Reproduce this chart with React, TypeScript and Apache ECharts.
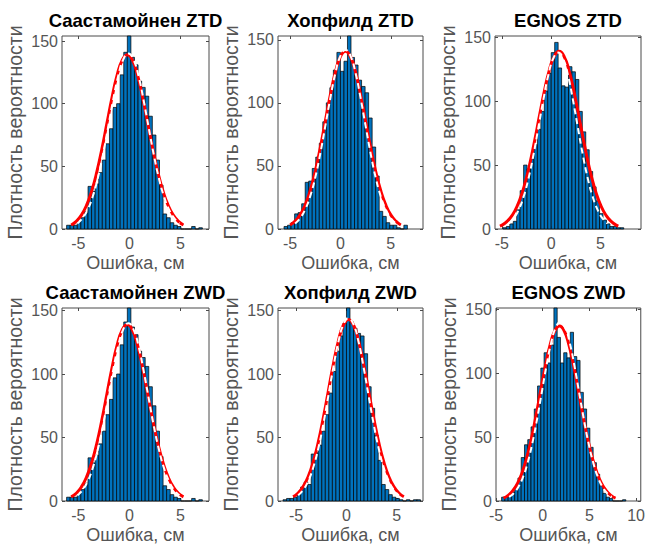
import React, { useEffect, useRef } from "react";
import * as echarts from "echarts";

// Panel titles, row by row
const panelTitles = [
  "Саастамойнен ZTD",
  "Хопфилд ZTD",
  "EGNOS ZTD",
  "Саастамойнен ZWD",
  "Хопфилд ZWD",
  "EGNOS ZWD",
];
const xAxisName = "Ошибка, см";
const yAxisName = "Плотность вероятности";

// Tick values
const xTickValues = [
  [-5, 0, 5],
  [-5, 0, 5],
  [-5, 0, 5],
  [-5, 0, 5],
  [-5, 0, 5],
  [-5, 0, 5, 10],
];
const yTickValues = [0, 50, 100, 150];

// Axis limits
const xRanges = [
  [-6.6, 7.8],
  [-6.2, 8.2],
  [-5.7, 9.1],
  [-6.6, 7.8],
  [-6.8, 7.6],
  [-5, 10.5],
];
const yMax = [154, 153, 151, 152, 152, 151];

// Histogram bins: first edge of each panel, common bin width
const binStart = [-6.15, -5.6, -4.9, -6.15, -6.3, -4.4];
const binWidth = 0.35;

// Bin counts
const countsSaastZTD = [3, 3, 3, 6, 9, 14, 34, 30, 36, 45, 55, 68, 80, 97, 100, 123, 141, 156, 137, 131, 118, 113, 106, 90, 75, 55, 35, 12, 9, 5, 3, 2, 0, 0, 0, 2, 0, 1];
const countsHopfZTD = [2, 3, 5, 12, 13, 20, 37, 38, 48, 57, 68, 85, 100, 112, 126, 140, 125, 133, 156, 136, 130, 118, 113, 108, 88, 65, 42, 14, 10, 5, 3, 3, 1, 0, 3];
const countsEgnosZTD = [1, 2, 4, 6, 15, 30, 50, 47, 55, 66, 78, 92, 108, 122, 138, 146, 126, 112, 111, 127, 123, 117, 92, 76, 62, 45, 33, 22, 12, 7, 4, 2, 2, 1, 1];
const countsSaastZWD = [3, 3, 3, 6, 9, 14, 34, 30, 36, 45, 55, 68, 80, 97, 100, 123, 141, 156, 137, 131, 118, 113, 106, 90, 75, 55, 35, 12, 9, 5, 3, 2, 0, 0, 0, 2, 0, 1];
const countsHopfZWD = [1, 2, 2, 3, 6, 11, 15, 13, 37, 38, 44, 55, 68, 85, 102, 118, 130, 140, 153, 141, 136, 132, 130, 116, 90, 73, 52, 32, 13, 9, 5, 3, 2, 1, 0, 1, 0, 1, 1];
const countsEgnosZWD = [3, 3, 4, 7, 11, 18, 34, 44, 48, 58, 72, 90, 104, 116, 108, 122, 156, 128, 108, 116, 112, 132, 113, 110, 85, 72, 57, 42, 30, 21, 12, 6, 3, 2, 0, 0, 0, 1];

// Fitted density curves (red solid)
const redSaastZTD = [[-5.7, 3.2], [-5.2, 6.1], [-4.7, 11.1], [-4.2, 18.8], [-3.7, 30.1], [-3.2, 45.1], [-2.7, 63.6], [-2.2, 84.3], [-1.7, 104.9], [-1.2, 122.7], [-0.7, 134.7], [-0.2, 139], [0.3, 134.7], [0.8, 122.7], [1.3, 104.9], [1.8, 84.3], [2.3, 63.6], [2.8, 45.1], [3.3, 30.1], [3.8, 18.8], [4.3, 11.1], [4.8, 6.1], [5.3, 3.2]];
const redHopfZTD = [[-5.0, 3.2], [-4.5, 6.2], [-4.0, 11.2], [-3.5, 19.1], [-3.0, 30.5], [-2.5, 45.8], [-2.0, 64.6], [-1.5, 85.5], [-1.0, 106.4], [-0.5, 124.4], [0.0, 136.6], [0.5, 141], [1.0, 136.6], [1.5, 124.4], [2.0, 106.4], [2.5, 85.5], [3.0, 64.6], [3.5, 45.8], [4.0, 30.5], [4.5, 19.1], [5.0, 11.2], [5.5, 6.2], [6.0, 3.2]];
const redEgnosZTD = [[-5.2, 2.3], [-4.7, 4.5], [-4.2, 8.2], [-3.7, 14.0], [-3.2, 22.7], [-2.7, 34.6], [-2.2, 50.0], [-1.7, 68.4], [-1.2, 88.3], [-0.7, 107.7], [-0.2, 124.1], [0.3, 135.1], [0.8, 139], [1.3, 135.1], [1.8, 124.1], [2.3, 107.7], [2.8, 88.3], [3.3, 68.4], [3.8, 50.0], [4.3, 34.6], [4.8, 22.7], [5.3, 14.0], [5.8, 8.2], [6.3, 4.5], [6.8, 2.3]];
const redSaastZWD = [[-5.7, 3.2], [-5.2, 6.1], [-4.7, 11.1], [-4.2, 18.8], [-3.7, 30.1], [-3.2, 45.1], [-2.7, 63.6], [-2.2, 84.3], [-1.7, 104.9], [-1.2, 122.7], [-0.7, 134.7], [-0.2, 139], [0.3, 134.7], [0.8, 122.7], [1.3, 104.9], [1.8, 84.3], [2.3, 63.6], [2.8, 45.1], [3.3, 30.1], [3.8, 18.8], [4.3, 11.1], [4.8, 6.1], [5.3, 3.2]];
const redHopfZWD = [[-5.3, 3.3], [-4.8, 6.3], [-4.3, 11.4], [-3.8, 19.3], [-3.3, 30.9], [-2.8, 46.4], [-2.3, 65.5], [-1.8, 86.7], [-1.3, 107.9], [-0.8, 126.2], [-0.3, 138.6], [0.2, 143], [0.7, 138.6], [1.2, 126.2], [1.7, 107.9], [2.2, 86.7], [2.7, 65.5], [3.2, 46.4], [3.7, 30.9], [4.2, 19.3], [4.7, 11.4], [5.2, 6.3], [5.7, 3.3]];
const redEgnosZWD = [[-4.2, 2.3], [-3.7, 4.4], [-3.2, 8.1], [-2.7, 13.8], [-2.2, 22.3], [-1.7, 34.1], [-1.2, 49.3], [-0.7, 67.4], [-0.2, 87.0], [0.3, 106.2], [0.8, 122.3], [1.3, 133.2], [1.8, 137], [2.3, 133.2], [2.8, 122.3], [3.3, 106.2], [3.8, 87.0], [4.3, 67.4], [4.8, 49.3], [5.3, 34.1], [5.8, 22.3], [6.3, 13.8], [6.8, 8.1], [7.3, 4.4], [7.8, 2.3]];

// Second density estimate (white dashed)
const whiteSaastZTD = [[-5.1, 4.4], [-4.6, 8.5], [-4.1, 15.3], [-3.6, 25.7], [-3.1, 40.3], [-2.6, 58.9], [-2.1, 80.5], [-1.6, 102.5], [-1.1, 121.9], [-0.6, 135.2], [-0.1, 140], [0.4, 135.2], [0.9, 121.9], [1.4, 102.5], [1.9, 80.5], [2.4, 58.9], [2.9, 40.3], [3.4, 25.7], [3.9, 15.3], [4.4, 8.5], [4.9, 4.4]];
const whiteHopfZTD = [[-4.5, 4.4], [-4.0, 8.6], [-3.5, 15.5], [-3.0, 26.0], [-2.5, 40.8], [-2.0, 59.8], [-1.5, 81.7], [-1.0, 103.9], [-0.5, 123.7], [0.0, 137.2], [0.5, 142], [1.0, 137.2], [1.5, 123.7], [2.0, 103.9], [2.5, 81.7], [3.0, 59.8], [3.5, 40.8], [4.0, 26.0], [4.5, 15.5], [5.0, 8.6], [5.5, 4.4]];
const whiteEgnosZTD = [[-4.3, 4.3], [-3.8, 8.3], [-3.3, 15.0], [-2.8, 25.3], [-2.3, 39.7], [-1.8, 58.1], [-1.3, 79.4], [-0.8, 101.0], [-0.3, 120.2], [0.2, 133.3], [0.7, 138], [1.2, 133.3], [1.7, 120.2], [2.2, 101.0], [2.7, 79.4], [3.2, 58.1], [3.7, 39.7], [4.2, 25.3], [4.7, 15.0], [5.2, 8.3], [5.7, 4.3]];
const whiteSaastZWD = [[-5.1, 4.4], [-4.6, 8.5], [-4.1, 15.3], [-3.6, 25.7], [-3.1, 40.3], [-2.6, 58.9], [-2.1, 80.5], [-1.6, 102.5], [-1.1, 121.9], [-0.6, 135.2], [-0.1, 140], [0.4, 135.2], [0.9, 121.9], [1.4, 102.5], [1.9, 80.5], [2.4, 58.9], [2.9, 40.3], [3.4, 25.7], [3.9, 15.3], [4.4, 8.5], [4.9, 4.4]];
const whiteHopfZWD = [[-4.8, 4.5], [-4.3, 8.7], [-3.8, 15.7], [-3.3, 26.4], [-2.8, 41.4], [-2.3, 60.6], [-1.8, 82.8], [-1.3, 105.4], [-0.8, 125.4], [-0.3, 139.1], [0.2, 144], [0.7, 139.1], [1.2, 125.4], [1.7, 105.4], [2.2, 82.8], [2.7, 60.6], [3.2, 41.4], [3.7, 26.4], [4.2, 15.7], [4.7, 8.7], [5.2, 4.5]];
const whiteEgnosZWD = [[-3.6, 3.2], [-3.1, 6.1], [-2.6, 11.1], [-2.1, 18.9], [-1.6, 30.3], [-1.1, 45.5], [-0.6, 64.1], [-0.1, 84.9], [0.4, 105.7], [0.9, 123.6], [1.4, 135.7], [1.9, 140], [2.4, 135.7], [2.9, 123.6], [3.4, 105.7], [3.9, 84.9], [4.4, 64.1], [4.9, 45.5], [5.4, 30.3], [5.9, 18.9], [6.4, 11.1], [6.9, 6.1], [7.4, 3.2]];

const allCounts = [countsSaastZTD, countsHopfZTD, countsEgnosZTD, countsSaastZWD, countsHopfZWD, countsEgnosZWD];
const allRed = [redSaastZTD, redHopfZTD, redEgnosZTD, redSaastZWD, redHopfZWD, redEgnosZWD];
const allWhite = [whiteSaastZTD, whiteHopfZTD, whiteEgnosZTD, whiteSaastZWD, whiteHopfZWD, whiteEgnosZWD];

// Plot box of each panel in pixels
const boxes = [
  { left: 62, top: 36, width: 147, height: 193 },
  { left: 278, top: 36, width: 145, height: 193 },
  { left: 495, top: 36, width: 146, height: 193 },
  { left: 62, top: 308, width: 147, height: 193 },
  { left: 278, top: 308, width: 145, height: 193 },
  { left: 496, top: 308, width: 145, height: 193 },
];

const FONT = '"Liberation Sans", Arial, Helvetica, sans-serif';
const AXIS_COLOR = "#4a4a4a";
const TEXT_COLOR = "#555555";
const BAR_FILL = "#0072BD";

function buildOption() {
  const grid: any[] = [];
  const xAxis: any[] = [];
  const yAxis: any[] = [];
  const series: any[] = [];
  const title: any[] = [];

  boxes.forEach((b, i) => {
    grid.push({
      ...b,
      show: true,
      backgroundColor: "#ffffff",
      borderColor: AXIS_COLOR,
      borderWidth: 1,
    });

    title.push({
      text: panelTitles[i],
      left: b.left + b.width / 2,
      top: b.top - 25,
      textAlign: "center",
      padding: 0,
      textStyle: { fontFamily: FONT, fontSize: 18.5, fontWeight: "bold", color: "#000000" },
    });

    const [xmin, xmax] = xRanges[i];
    const tickStyle = { inside: true, length: 3, lineStyle: { color: AXIS_COLOR, width: 1 } };
    const hiddenLine = { show: false, onZero: false };

    xAxis.push({
      type: "value",
      gridIndex: i,
      position: "bottom",
      min: xmin,
      max: xmax,
      axisLine: hiddenLine,
      splitLine: { show: false },
      axisTick: { ...tickStyle, customValues: xTickValues[i] },
      axisLabel: {
        customValues: xTickValues[i],
        margin: 6,
        color: TEXT_COLOR,
        fontFamily: FONT,
        fontSize: 16,
      },
      name: xAxisName,
      nameLocation: "middle",
      nameGap: 25,
      nameTextStyle: { color: TEXT_COLOR, fontFamily: FONT, fontSize: 18 },
    });
    xAxis.push({
      type: "value",
      gridIndex: i,
      position: "top",
      min: xmin,
      max: xmax,
      axisLine: hiddenLine,
      splitLine: { show: false },
      axisTick: { ...tickStyle, customValues: xTickValues[i] },
      axisLabel: { show: false },
    });

    yAxis.push({
      type: "value",
      gridIndex: i,
      position: "left",
      min: 0,
      max: yMax[i],
      axisLine: hiddenLine,
      splitLine: { show: false },
      axisTick: { ...tickStyle, customValues: yTickValues },
      axisLabel: {
        customValues: yTickValues,
        margin: 4,
        color: TEXT_COLOR,
        fontFamily: FONT,
        fontSize: 16,
      },
      name: yAxisName,
      nameLocation: "middle",
      nameRotate: 90,
      nameGap: 37,
      nameTextStyle: { color: TEXT_COLOR, fontFamily: FONT, fontSize: 19.5 },
    });
    yAxis.push({
      type: "value",
      gridIndex: i,
      position: "right",
      min: 0,
      max: yMax[i],
      axisLine: hiddenLine,
      splitLine: { show: false },
      axisTick: { ...tickStyle, customValues: yTickValues },
      axisLabel: { show: false },
    });

    const bins = allCounts[i].map((c, k) => [
      binStart[i] + k * binWidth,
      binStart[i] + (k + 1) * binWidth,
      c,
    ]);

    series.push({
      type: "custom",
      xAxisIndex: 2 * i,
      yAxisIndex: 2 * i,
      data: bins,
      encode: { x: [0, 1], y: 2 },
      renderItem: (params: any, api: any) => {
        const top = api.coord([api.value(0), api.value(2)]);
        const bottom = api.coord([api.value(1), 0]);
        const cs = params.coordSys;
        // Bars taller than the axis limit are cut at the plot box
        const shape = echarts.graphic.clipRectByRect(
          {
            x: top[0],
            y: top[1],
            width: bottom[0] - top[0],
            height: bottom[1] - top[1],
          },
          { x: cs.x, y: cs.y, width: cs.width, height: cs.height }
        );
        if (!shape) return null;
        return {
          type: "rect",
          shape,
          style: { fill: BAR_FILL, stroke: "#000000", lineWidth: 0.7 },
        };
      },
      z: 2,
    });

    series.push({
      type: "line",
      xAxisIndex: 2 * i,
      yAxisIndex: 2 * i,
      data: allRed[i],
      smooth: true,
      symbol: "none",
      lineStyle: { color: "#ff0000", width: 3 },
      z: 3,
    });
    series.push({
      type: "line",
      xAxisIndex: 2 * i,
      yAxisIndex: 2 * i,
      data: allWhite[i],
      smooth: true,
      symbol: "none",
      lineStyle: { color: "#ffffff", width: 2, type: [6, 4] },
      z: 4,
    });
  });

  return {
    animation: false,
    backgroundColor: "#ffffff",
    title,
    grid,
    xAxis,
    yAxis,
    series,
  };
}

export default function App() {
  const ref = useRef<HTMLDivElement>(null);

  useEffect(() => {
    if (!ref.current) return;
    const chart = echarts.init(ref.current, undefined, { renderer: "svg" });
    chart.setOption(buildOption() as any);
    return () => chart.dispose();
  }, []);

  return (
    <div
      ref={ref}
      style={{ position: "fixed", left: 0, top: 0, width: 648, height: 548, background: "#fff" }}
    />
  );
}
